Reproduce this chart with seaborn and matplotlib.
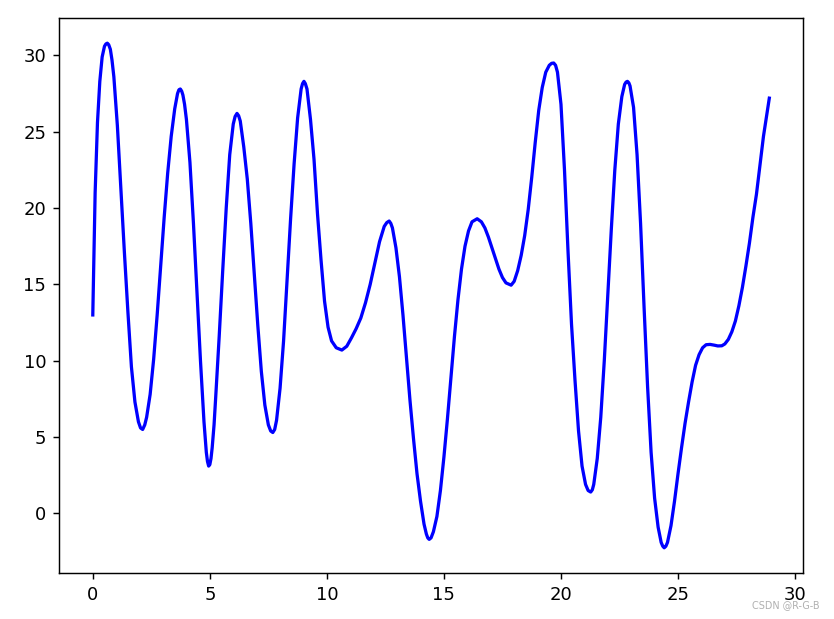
import matplotlib
matplotlib.use("Agg")
import matplotlib.pyplot as plt
import seaborn as sns
import pandas as pd

# points
x_vals = [0.0, 0.1, 0.2, 0.3, 0.4, 0.5, 0.56, 0.62, 0.68, 0.75, 0.82, 0.9, 1.05, 1.2, 1.35, 1.5,
          1.65, 1.8, 1.95, 2.04, 2.13, 2.22, 2.3, 2.45, 2.6, 2.75, 2.9, 3.05, 3.2, 3.35, 3.5,
          3.62, 3.68, 3.74, 3.8, 3.85, 3.92, 4.0, 4.15, 4.3, 4.45, 4.6, 4.75, 4.85, 4.9, 4.95,
          5.0, 5.05, 5.1, 5.18, 5.25, 5.4, 5.55, 5.7, 5.85, 6.0, 6.08, 6.16, 6.23, 6.3, 6.45,
          6.6, 6.75, 6.9, 7.05, 7.2, 7.35, 7.5, 7.6, 7.69, 7.77, 7.85, 8.0, 8.15, 8.3, 8.45,
          8.6, 8.75, 8.9, 8.96, 9.02, 9.08, 9.15, 9.3, 9.45, 9.6, 9.75, 9.9, 10.05, 10.2, 10.4,
          10.64, 10.85, 11.05, 11.25, 11.45, 11.65, 11.85, 12.05, 12.25, 12.45, 12.56, 12.66,
          12.73, 12.8, 12.95, 13.1, 13.25, 13.4, 13.55, 13.7, 13.85, 14.0, 14.15, 14.25, 14.31,
          14.37, 14.45, 14.55, 14.7, 14.85, 15.0, 15.15, 15.3, 15.45, 15.6, 15.75, 15.9, 16.05,
          16.2, 16.42, 16.6, 16.75, 16.9, 17.05, 17.2, 17.35, 17.5, 17.65, 17.87, 18.0, 18.15,
          18.3, 18.45, 18.6, 18.75, 18.9, 19.05, 19.2, 19.35, 19.5, 19.6, 19.69, 19.77, 19.85,
          20.0, 20.15, 20.3, 20.45, 20.6, 20.75, 20.9, 21.05, 21.16, 21.27, 21.34, 21.4, 21.55,
          21.7, 21.85, 22.0, 22.15, 22.3, 22.45, 22.6, 22.72, 22.78, 22.84, 22.9, 22.95, 23.1,
          23.25, 23.4, 23.55, 23.7, 23.85, 24.0, 24.15, 24.28, 24.35, 24.41, 24.48, 24.55, 24.7,
          24.85, 25.0, 25.15, 25.3, 25.45, 25.6, 25.75, 25.9, 26.05, 26.2, 26.37, 26.55, 26.7,
          26.87, 27.0, 27.15, 27.3, 27.45, 27.6, 27.75, 27.9, 28.05, 28.2, 28.35, 28.5, 28.65,
          28.9]
y_vals = [13.0, 21.0, 25.6, 28.3, 29.9, 30.6, 30.75, 30.8, 30.7, 30.4, 29.7, 28.6, 25.4, 21.2, 17.1, 13.2,
          9.6, 7.3, 6.0, 5.6, 5.5, 5.8, 6.3, 7.8, 10.1, 13.0, 16.2, 19.4, 22.3, 24.7, 26.5,
          27.5, 27.75, 27.8, 27.65, 27.4, 26.8, 25.8, 23.0, 19.0, 14.5, 10.0, 6.0, 4.0, 3.4, 3.1,
          3.2, 3.6, 4.3, 5.8, 7.6, 11.6, 15.9, 20.0, 23.5, 25.5, 26.0, 26.2, 26.05, 25.7, 24.0,
          21.9, 19.0, 15.6, 12.3, 9.3, 7.1, 5.8, 5.4, 5.3, 5.5, 6.1, 8.2, 11.3, 15.3, 19.3,
          22.9, 25.9, 27.8, 28.15, 28.3, 28.15, 27.8, 25.8, 23.2, 19.6, 16.6, 13.9, 12.2, 11.3, 10.85,
          10.7, 10.95, 11.5, 12.1, 12.8, 13.8, 15.0, 16.4, 17.8, 18.8, 19.05, 19.15,
          19.0, 18.7, 17.4, 15.5, 13.0, 10.2, 7.4, 4.9, 2.6, 0.8, -0.7, -1.35, -1.6,
          -1.7, -1.6, -1.2, -0.2, 1.5, 3.7, 6.2, 8.9, 11.6, 14.0, 16.0, 17.5, 18.5,
          19.1, 19.3, 19.1, 18.7, 18.1, 17.4, 16.7, 16.0, 15.45, 15.1, 14.95, 15.2, 15.9,
          16.9, 18.2, 19.9, 22.0, 24.3, 26.4, 27.9, 28.9, 29.35, 29.48, 29.5, 29.35, 28.9,
          26.8, 22.5, 17.2, 12.4, 8.7, 5.4, 3.1, 1.9, 1.5, 1.4, 1.55, 1.9, 3.6,
          6.3, 10.0, 14.3, 18.6, 22.5, 25.5, 27.3, 28.1, 28.25, 28.3, 28.2, 28.0, 26.6,
          23.5, 19.0, 13.5, 8.3, 4.0, 1.0, -0.9, -1.9, -2.15, -2.25, -2.15, -1.9, -0.8,
          0.8, 2.6, 4.3, 5.9, 7.3, 8.6, 9.7, 10.4, 10.85, 11.05, 11.07, 11.02, 10.97,
          10.98, 11.1, 11.4, 11.9, 12.6, 13.6, 14.8, 16.2, 17.7, 19.4, 20.9, 22.8, 24.7,
          27.2]

df = pd.DataFrame({"x": x_vals, "y": y_vals})

fig, ax = plt.subplots(figsize=(834 / 130, 619 / 130), dpi=130)
sns.lineplot(data=df, x="x", y="y", sort=False, color="blue", linewidth=1.8, ax=ax)
ax.set_xlabel("")
ax.set_ylabel("")

fig.subplots_adjust(left=0.0707, right=0.963, top=0.971, bottom=0.0743)
fig.text(0.983, 0.014, "CSDN @R-G-B", fontsize=5.3, color="#b0b0b0", ha="right", va="bottom")

fig.savefig("out.png", dpi=130)
